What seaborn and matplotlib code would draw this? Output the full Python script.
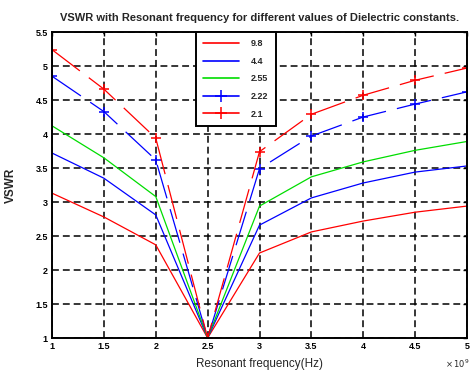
import numpy as np
import pandas as pd
import seaborn as sns
from matplotlib import pyplot as plt
from matplotlib.lines import Line2D

# resonant frequency in units of 1e9 Hz
freq = [1, 1.5, 2, 2.5, 3, 3.5, 4, 4.5, 5]

# VSWR for each dielectric constant
vswr_98 = [3.13, 2.78, 2.37, 1.0, 2.25, 2.56, 2.72, 2.85, 2.94]
vswr_44 = [3.72, 3.35, 2.81, 1.0, 2.66, 3.06, 3.28, 3.44, 3.53]
vswr_255 = [4.12, 3.65, 3.08, 1.0, 2.94, 3.37, 3.59, 3.76, 3.89]
vswr_222 = [4.85, 4.33, 3.62, 1.0, 3.49, 3.97, 4.25, 4.44, 4.62]
vswr_21 = [5.24, 4.66, 3.94, 1.0, 3.74, 4.29, 4.57, 4.79, 4.97]

labels = ['9.8', '4.4', '2.55', '2.22', '2.1']
colors = ['#ff0000', '#0000ff', '#00dd00', '#0000ff', '#ff0000']

sns.set_theme(style='white')
plt.rcParams['font.family'] = ['Liberation Sans', 'DejaVu Sans']

df = pd.DataFrame({
    'freq': freq * 5,
    'vswr': vswr_98 + vswr_44 + vswr_255 + vswr_222 + vswr_21,
    'er': np.repeat(labels, len(freq)),
})

fig = plt.figure(figsize=(4.7, 3.71), dpi=100)
ax = fig.add_axes([52 / 470, 33 / 371, 415 / 470, 306 / 371])

for i, lab in enumerate(labels):
    sub = df[df['er'] == lab]
    if i < 3:
        sns.lineplot(data=sub, x='freq', y='vswr', color=colors[i], lw=0.9,
                     ax=ax, legend=False)
    else:
        sns.lineplot(data=sub, x='freq', y='vswr', color=colors[i], lw=0.9,
                     marker='+', markersize=7, markeredgewidth=1.1,
                     markeredgecolor=colors[i],
                     linestyle=(0, (28, 9)), ax=ax, legend=False)

ax.set_xlim(1, 5)
ax.set_ylim(1, 5.5)
ax.set_xticks(freq)
ax.set_xticklabels(['%g' % v for v in freq])
yt = [1, 1.5, 2, 2.5, 3, 3.5, 4, 4.5, 5, 5.5]
ax.set_yticks(yt)
ax.set_yticklabels(['%g' % v for v in yt])
ax.tick_params(direction='in', length=3, width=1, labelsize=6.5, pad=3,
               top=True, right=True, colors='black')
for t in ax.get_xticklabels() + ax.get_yticklabels():
    t.set_fontweight('bold')
ax.grid(True, color='black', linestyle=(0, (4.5, 2.6)), linewidth=1.1)
for s in ax.spines.values():
    s.set_color('black')
    s.set_linewidth(1.4)

ax.set_xlabel('Resonant frequency(Hz)', fontsize=8.4, labelpad=5)
ax.set_ylabel('VSWR', fontsize=8.5, fontweight='bold', labelpad=13)
ax.set_title('VSWR with Resonant frequency for different values of Dielectric constants.',
             fontsize=8.0, fontweight='bold', pad=8)
fig.text(0.998, 0.004, r'$\times\,10^9$', fontsize=6, ha='right', va='bottom')

handles = []
for i, lab in enumerate(labels):
    if i < 3:
        handles.append(Line2D([], [], color=colors[i], lw=1.2))
    else:
        handles.append(Line2D([], [], color=colors[i], lw=1.2, marker='+',
                              markersize=8, markeredgewidth=1.1))
leg = ax.legend(handles, labels, loc='upper left', bbox_to_anchor=(0.347, 1.0),
                fontsize=6.5, frameon=True, fancybox=False, handlelength=4.0,
                borderpad=0.8, labelspacing=0.95, handletextpad=1.3,
                borderaxespad=0, prop={'weight': 'bold', 'size': 6.5})
leg.get_frame().set_edgecolor('black')
leg.get_frame().set_linewidth(1.4)
leg.get_frame().set_alpha(1)

fig.savefig('out.png', dpi=100)
